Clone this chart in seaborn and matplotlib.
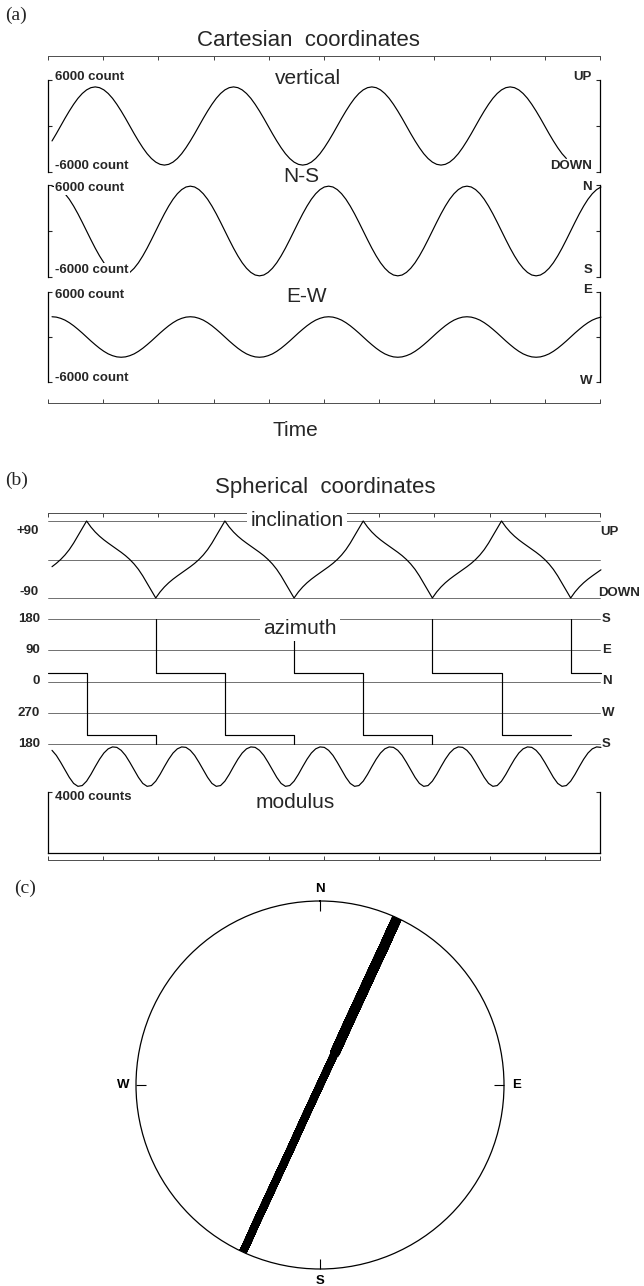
import numpy as np
import pandas as pd
import matplotlib
matplotlib.use("Agg")
import matplotlib.pyplot as plt
import seaborn as sns

sns.set_style("white")
plt.rcParams["font.family"] = ["Liberation Sans", "DejaVu Sans"]
plt.rcParams["axes.unicode_minus"] = False

# ---------------- data ----------------
# samples every 1/32 of the signal period
sample_step = 1.0 / 32.0

ns_counts = [
    5850, 5740, 5400, 4860, 4140, 3250, 2240, 1140, 0, -1140, -2240, -3250, -4140, -4860, -5400, -5740,
    -5850, -5740, -5400, -4860, -4140, -3250, -2240, -1140, 0, 1140, 2240, 3250, 4140, 4860, 5400, 5740,
    5850, 5740, 5400, 4860, 4140, 3250, 2240, 1140, 0, -1140, -2240, -3250, -4140, -4860, -5400, -5740,
    -5850, -5740, -5400, -4860, -4140, -3250, -2240, -1140, 0, 1140, 2240, 3250, 4140, 4860, 5400, 5740,
    5850, 5740, 5400, 4860, 4140, 3250, 2240, 1140, 0, -1140, -2240, -3250, -4140, -4860, -5400, -5740,
    -5850, -5740, -5400, -4860, -4140, -3250, -2240, -1140, 0, 1140, 2240, 3250, 4140, 4860, 5400, 5740,
    5850, 5740, 5400, 4860, 4140, 3250, 2240, 1140, 0, -1140, -2240, -3250, -4140, -4860, -5400, -5740,
    -5850, -5740, -5400, -4860, -4140, -3250, -2240, -1140, 0, 1140, 2240, 3250, 4140, 4860, 5400, 5740,
]
ew_counts = [
    2700, 2650, 2490, 2250, 1910, 1500, 1030, 530, 0, -530, -1030, -1500, -1910, -2250, -2490, -2650,
    -2700, -2650, -2490, -2250, -1910, -1500, -1030, -530, 0, 530, 1030, 1500, 1910, 2250, 2490, 2650,
    2700, 2650, 2490, 2250, 1910, 1500, 1030, 530, 0, -530, -1030, -1500, -1910, -2250, -2490, -2650,
    -2700, -2650, -2490, -2250, -1910, -1500, -1030, -530, 0, 530, 1030, 1500, 1910, 2250, 2490, 2650,
    2700, 2650, 2490, 2250, 1910, 1500, 1030, 530, 0, -530, -1030, -1500, -1910, -2250, -2490, -2650,
    -2700, -2650, -2490, -2250, -1910, -1500, -1030, -530, 0, 530, 1030, 1500, 1910, 2250, 2490, 2650,
    2700, 2650, 2490, 2250, 1910, 1500, 1030, 530, 0, -530, -1030, -1500, -1910, -2250, -2490, -2650,
    -2700, -2650, -2490, -2250, -1910, -1500, -1030, -530, 0, 530, 1030, 1500, 1910, 2250, 2490, 2650,
]
vert_counts = [
    -1950, -1000, 0, 1000, 1950, 2830, 3610, 4240, 4710, 5000, 5100, 5000, 4710, 4240, 3610, 2830,
    1950, 1000, 0, -1000, -1950, -2830, -3610, -4240, -4710, -5000, -5100, -5000, -4710, -4240, -3610, -2830,
    -1950, -1000, 0, 1000, 1950, 2830, 3610, 4240, 4710, 5000, 5100, 5000, 4710, 4240, 3610, 2830,
    1950, 1000, 0, -1000, -1950, -2830, -3610, -4240, -4710, -5000, -5100, -5000, -4710, -4240, -3610, -2830,
    -1950, -1000, 0, 1000, 1950, 2830, 3610, 4240, 4710, 5000, 5100, 5000, 4710, 4240, 3610, 2830,
    1950, 1000, 0, -1000, -1950, -2830, -3610, -4240, -4710, -5000, -5100, -5000, -4710, -4240, -3610, -2830,
    -1950, -1000, 0, 1000, 1950, 2830, 3610, 4240, 4710, 5000, 5100, 5000, 4710, 4240, 3610, 2830,
    1950, 1000, 0, -1000, -1950, -2830, -3610, -4240, -4710, -5000, -5100, -5000, -4710, -4240, -3610, -2830,
]
vert_shown = 120  # the vertical trace stops a little before the right edge

# azimuth polyline (sample index, degrees), one unit per drawn piece
az_unit = [0, 0, 0, 0, 0,
           1, 1, 1, 1, 1, 1,
           2, 2, 2, 2, 2, 2,
           3, 3, 3, 3, 3,
           4, 4, 4]
az_sample = [-1, 8, 8, 24, 24,
             24, 24, 40, 40, 56, 56,
             56, 56, 72, 72, 88, 88,
             88, 88, 104, 104, 120,
             120, 120, 127]
az_deg = [25, 25, -155, -155, -180,
          180, 25, 25, -155, -155, -180,
          180, 25, 25, -155, -155, -180,
          180, 25, 25, -155, -155,
          180, 25, 25]

cart_labels = ["vertical", "N-S", "E-W"]
right_labels_a = [("UP", "DOWN"), ("N", "S"), ("E", "W")]
inc_left = ["+90", "-90"]
inc_right = ["UP", "DOWN"]
az_levels = [180, 90, 0, -90, -180]
az_left = ["180", "90", "0", "270", "180"]
az_right = ["S", "E", "N", "W", "S"]
compass = ["N", "E", "S", "W"]
compass_deg = [0, 90, 180, 270]

# ---------------- derived quantities ----------------
ns = np.array(ns_counts, float)
ew = np.array(ew_counts, float)
vz = np.array(vert_counts, float)
t = np.arange(len(ns)) * sample_step
horiz = np.hypot(ns, ew)
inclination = np.degrees(np.arctan2(vz, horiz))
modulus = np.sqrt(vz ** 2 + ns ** 2 + ew ** 2)
az_df = pd.DataFrame({"unit": az_unit, "t": np.array(az_sample) * sample_step, "deg": az_deg})

# ---------------- layout helpers ----------------
W, H = 644, 1286
fig = plt.figure(figsize=(W / 100, H / 100), dpi=100)


def px_axes(x0, y0, x1, y1, **kw):
    return fig.add_axes([x0 / W, 1 - y1 / H, (x1 - x0) / W, (y1 - y0) / H], **kw)


def ftext(x, y, s, **kw):
    kw.setdefault("va", "center")
    return fig.text(x / W, 1 - y / H, s, **kw)


WHITE = dict(facecolor="white", edgecolor="none", pad=1.0)
TL, TR = -0.029, 3.962
XL, XR = 48, 600
LBL = dict(fontsize=9.5, fontweight="bold")
BIG = dict(fontsize=15)
SERIF = ["Liberation Serif", "DejaVu Serif"]


def clean(ax):
    ax.set_facecolor("none")
    ax.set_xlim(TL, TR)
    ax.set_xticks([])
    ax.set_xlabel("")
    ax.set_ylabel("")
    for s in ax.spines.values():
        s.set_visible(False)


def time_frame(y0, y1):
    ax = px_axes(XL, y0, XR, y1)
    ax.set_zorder(-1)
    ax.set_xlim(TL, TR)
    ax.set_ylim(0, 1)
    ax.set_yticks([])
    ax.set_xticks(np.arange(TL, TR + 0.01, 0.4))
    ax.tick_params(axis="x", direction="in", length=3, width=0.7, top=True,
                   bottom=True, labelbottom=False, colors="0.25")
    for s in ["left", "right"]:
        ax.spines[s].set_visible(False)
    for s in ["top", "bottom"]:
        ax.spines[s].set_linewidth(0.7)
        ax.spines[s].set_color("0.3")
    return ax


TRACE = dict(color="black", lw=0.85, estimator=None, sort=False, clip_on=False)

# ---------------- panel (a) ----------------
ftext(5, 15, "(a)", fontsize=14, family=SERIF, ha="left")
ftext(308, 40, "Cartesian  coordinates", fontsize=16, ha="center")
time_frame(56, 403)
ftext(295, 430, "Time", ha="center", **BIG)

cart_rows = [(80, 172), (185, 277), (292, 382)]
cart_series = [(t[:vert_shown], vz[:vert_shown]), (t, ns), (t, ew)]
top_lbl_y = [77, 188, 295]
bot_lbl_y = [166, 270, 378]
rt_y = [77, 187, 290]
rb_y = [166, 270, 381]
for i, ((y0, y1), (tx, vy)) in enumerate(zip(cart_rows, cart_series)):
    ax = px_axes(XL, y0, XR, y1)
    sns.lineplot(x=tx, y=vy, ax=ax, **TRACE)
    clean(ax)
    ax.set_ylim(-6000, 6000)
    for s in ["left", "right"]:
        ax.spines[s].set_visible(True)
        ax.spines[s].set_color("black")
        ax.spines[s].set_linewidth(0.9)
    ax.set_yticks([-6000, 0, 6000])
    ax.tick_params(axis="y", direction="in", length=3, width=0.8, left=True, right=True,
                   labelleft=False)
    ftext(55, top_lbl_y[i], "6000 count", ha="left", bbox=WHITE, **LBL)
    ftext(55, bot_lbl_y[i], "-6000 count", ha="left", bbox=WHITE, **LBL)
    ftext(592, rt_y[i], right_labels_a[i][0], ha="right", **LBL)
    ftext(592, rb_y[i], right_labels_a[i][1], ha="right", **LBL)

ftext(308, 78, cart_labels[0], ha="center", bbox=WHITE, **BIG)
ftext(301, 177, cart_labels[1], ha="center", **BIG)
ftext(307, 296, cart_labels[2], ha="center", **BIG)

# ---------------- panel (b) ----------------
ftext(5, 480, "(b)", fontsize=14, family=SERIF, ha="left")
ftext(325, 488, "Spherical  coordinates", fontsize=16, ha="center")
time_frame(513, 860)

REF = dict(color="0.35", lw=0.6, clip_on=False, zorder=1)
BOXED = dict(facecolor="white", edgecolor="none", pad=2.5)

# inclination
ax_inc = px_axes(XL, 521, XR, 598)
sns.lineplot(x=t, y=inclination, ax=ax_inc, **TRACE)
clean(ax_inc)
ax_inc.set_ylim(-90, 90)
ax_inc.set_yticks([])
for lv in [90, 0, -90]:
    ax_inc.axhline(lv, **REF)
ftext(39, 531, inc_left[0], ha="right", **LBL)
ftext(39, 592, inc_left[1], ha="right", **LBL)
ftext(600, 532, inc_right[0], ha="left", **LBL)
ftext(598, 593, inc_right[1], ha="left", **LBL)
ftext(297, 521, "inclination", ha="center", bbox=BOXED, **BIG)

# azimuth
ax_az = px_axes(XL, 619, XR, 744)
sns.lineplot(data=az_df, x="t", y="deg", units="unit", ax=ax_az, legend=False, **TRACE)
clean(ax_az)
ax_az.set_ylim(-180, 180)
ax_az.set_yticks([])
for lv in az_levels:
    ax_az.axhline(lv, **REF)
for lv, ls, rs in zip(az_levels, az_left, az_right):
    ypx = 619 + (180 - lv) / 360 * (744 - 619)
    ftext(40, ypx, ls, ha="right", **LBL)
    ftext(602, ypx, rs, ha="left", **LBL)
ftext(300, 628, "azimuth", ha="center", bbox=BOXED, **BIG)

# modulus
ax_mod = px_axes(XL, 745, XR, 853)
sns.lineplot(x=t, y=modulus, ax=ax_mod, **TRACE)
clean(ax_mod)
ax_mod.set_ylim(0, 4000 * (853 - 745) / (853 - 792))
for s in ["left", "right", "bottom"]:
    ax_mod.spines[s].set_visible(True)
    ax_mod.spines[s].set_color("black")
    ax_mod.spines[s].set_linewidth(0.9)
ax_mod.spines["left"].set_bounds(0, 4000)
ax_mod.spines["right"].set_bounds(0, 4000)
ax_mod.set_yticks([4000])
ax_mod.tick_params(axis="y", direction="in", length=3, width=0.8, left=True, right=True,
                   labelleft=False)
ftext(55, 797, "4000 counts", ha="left", bbox=WHITE, **LBL)
ftext(295, 803, "modulus", ha="center", **BIG)

# ---------------- panel (c) ----------------
ftext(14, 888, "(c)", fontsize=14, family=SERIF, ha="left")
ax_c = px_axes(136, 901, 504, 1269, projection="polar")
theta = np.arctan2(ew, ns)
north = ns > 0
sns.lineplot(x=theta, y=horiz, ax=ax_c, color="black", lw=5.5, estimator=None, sort=False,
             solid_capstyle="round")
sns.lineplot(x=theta[north], y=horiz[north], ax=ax_c, color="black", lw=7.0, estimator=None,
             sort=False, solid_capstyle="round")
ax_c.set_theta_zero_location("N")
ax_c.set_theta_direction(-1)
ax_c.set_rlim(0, 6450)
ax_c.set_yticks([])
ax_c.set_xlabel("")
ax_c.set_ylabel("")
ax_c.grid(False)
ax_c.set_xticks(np.radians(compass_deg))
ax_c.set_xticklabels(compass, fontsize=9.5, fontweight="bold")
ax_c.tick_params(axis="x", direction="in", length=7, width=0.8, pad=2,
                 bottom=False, top=True, colors="black")
ax_c.spines["polar"].set_linewidth(0.9)
ax_c.spines["polar"].set_color("black")

fig.savefig("out.png", dpi=100, facecolor="white")
